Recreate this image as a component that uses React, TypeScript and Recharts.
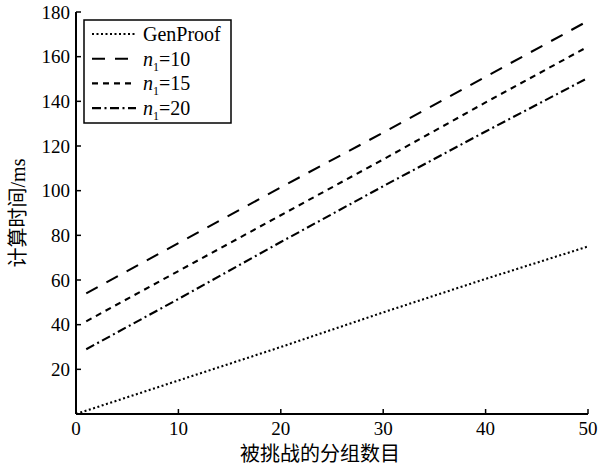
import { LineChart, Line, XAxis, YAxis, Legend, Label } from 'recharts';

// x positions sampled along each curve
const genProofX = [0, 10, 20, 30, 40, 50];
const genProofY = [0, 15, 30, 45.5, 60.5, 75];

const nX = [1, 10, 20, 30, 40, 50];
const n10Y = [54, 76.5, 101.5, 126, 151, 176];
const n15Y = [41.5, 64, 89, 114, 139.5, 164.5];
const n20Y = [29, 51.5, 77, 102, 126.5, 150.5];

const xTicks = [0, 10, 20, 30, 40, 50];
const yTicks = [20, 40, 60, 80, 100, 120, 140, 160, 180];

const xLabel = '被挑战的分组数目';
const yLabel = '计算时间/ms';

const zip = (xs: number[], ys: number[]) => xs.map((x, i) => ({ x, y: ys[i] }));

const series = [
  { key: 'gen', name: 'GenProof', sub: '', data: zip(genProofX, genProofY), dash: '2 2.5' },
  { key: 'n10', name: 'n', sub: '1', tail: '=10', data: zip(nX, n10Y), dash: '13 10' },
  { key: 'n15', name: 'n', sub: '1', tail: '=15', data: zip(nX, n15Y), dash: '6 5' },
  { key: 'n20', name: 'n', sub: '1', tail: '=20', data: zip(nX, n20Y), dash: '9 3.5 2 3.5' },
];

const FONT = "'Liberation Serif', 'Noto Sans CJK SC', serif";
const GAP = 6;
const LW = 2.1;

const YTick = ({ x, y, payload }: any) => (
  <g>
    <line x1={x + GAP} x2={x + GAP + 5} y1={y} y2={y} stroke="#000" strokeWidth={1.5} />
    <text x={x} y={y} dy="0.35em" textAnchor="end" fontSize={19} fontFamily={FONT} fill="#000">
      {payload.value}
    </text>
  </g>
);

const XTick = ({ x, y, payload }: any) => (
  <g>
    <line x1={x} x2={x} y1={y - GAP} y2={y - GAP - 5} stroke="#000" strokeWidth={1.5} />
    <text x={x} y={y} dy="0.8em" textAnchor="middle" fontSize={19} fontFamily={FONT} fill="#000">
      {payload.value}
    </text>
  </g>
);

const LegendBox = () => (
  <svg width={150} height={106} style={{ display: 'block' }}>
    <rect x={1} y={1} width={147} height={103} fill="#fff" stroke="#000" strokeWidth={1.5} />
    {series.map((s, i) => {
      const cy = 15 + i * 24.7;
      return (
        <g key={s.key}>
          <line x1={9} x2={53} y1={cy} y2={cy} stroke="#000" strokeWidth={LW} strokeDasharray={s.dash} />
          <text x={60} y={cy} dy="0.35em" fontSize={20} fontFamily={FONT} fill="#000">
            {s.sub ? (
              <>
                <tspan fontStyle="italic">{s.name}</tspan>
                <tspan fontSize={12} dy={5}>{s.sub}</tspan>
                <tspan dy={-5}>{s.tail}</tspan>
              </>
            ) : (
              s.name
            )}
          </text>
        </g>
      );
    })}
  </svg>
);

export default function App() {
  return (
    <div style={{ position: 'absolute', left: 0, top: 0, background: '#fff' }}>
      <LineChart width={604} height={464} margin={{ top: 12, right: 16, left: 0, bottom: 0 }}>
        <XAxis
          type="number"
          dataKey="x"
          domain={[0, 50]}
          ticks={xTicks}
          height={50}
          tickSize={0}
          tickMargin={GAP}
          tick={<XTick />}
          axisLine={{ stroke: '#000', strokeWidth: 2 }}
          allowDuplicatedCategory={false}
        >
          <Label
            value={xLabel}
            position="insideBottom"
            offset={3}
            dx={-12}
            style={{ fontSize: 20, fontFamily: FONT, fill: '#000' }}
          />
        </XAxis>
        <XAxis xAxisId="top" orientation="top" type="number" domain={[0, 50]} height={0} tick={false} tickLine={false} axisLine={{ stroke: '#000', strokeWidth: 2 }} />
        <YAxis
          type="number"
          domain={[0, 180]}
          ticks={yTicks}
          width={76}
          tickSize={0}
          tickMargin={GAP}
          tick={<YTick />}
          axisLine={{ stroke: '#000', strokeWidth: 2 }}
        >
          <Label
            value={yLabel}
            angle={-90}
            position="insideLeft"
            offset={18}
            style={{ fontSize: 20, fontFamily: FONT, fill: '#000', textAnchor: 'middle' }}
          />
        </YAxis>
        <YAxis yAxisId="right" orientation="right" type="number" domain={[0, 180]} width={0} tick={false} tickLine={false} axisLine={{ stroke: '#000', strokeWidth: 2 }} />
        <Legend
          layout="vertical"
          align="center"
          verticalAlign="middle"
          wrapperStyle={{ left: 83, top: 19, width: 'auto' }}
          content={<LegendBox />}
        />
        {series.map((s) => (
          <Line
            key={s.key}
            data={s.data}
            dataKey="y"
            name={s.name}
            type="linear"
            stroke="#000"
            strokeWidth={LW}
            strokeDasharray={s.dash}
            dot={false}
            activeDot={false}
            isAnimationActive={false}
          />
        ))}
      </LineChart>
    </div>
  );
}
